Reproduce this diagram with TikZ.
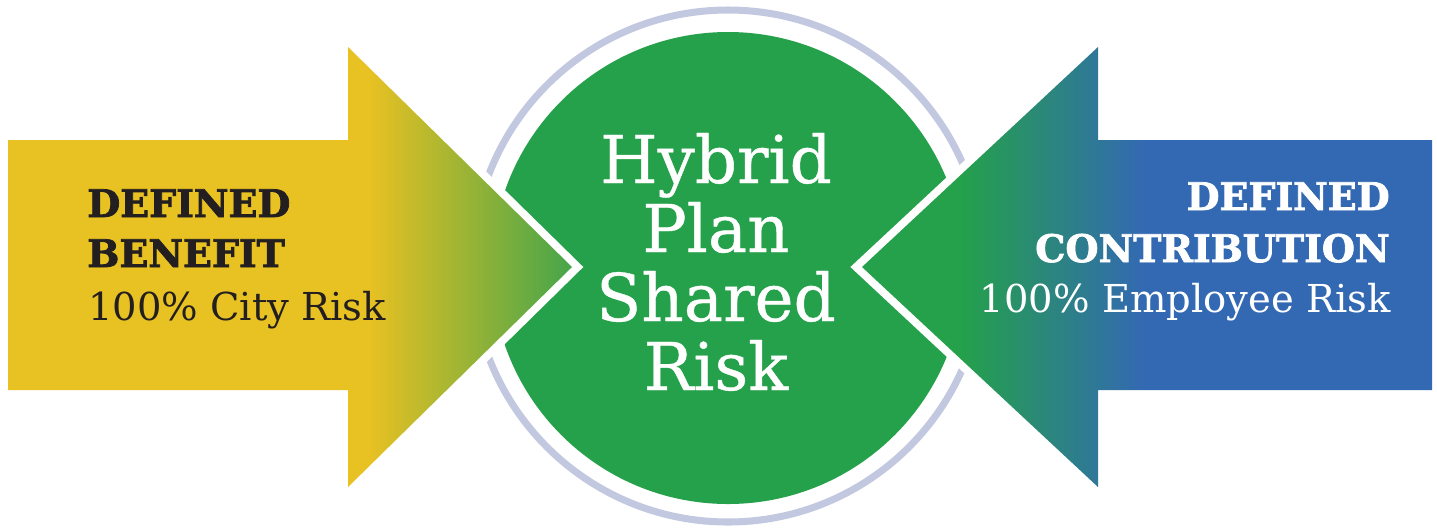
\documentclass[tikz,border=0pt]{standalone}
\usepackage{fontspec}
\setmainfont{DejaVu Serif}[BoldFeatures={FakeBold=2}]
\newfontfamily\hybridFont{DejaVu Serif}[FakeBold=0.6]
\usetikzlibrary{positioning}
\definecolor{cityYellow}{RGB}{232,193,34}
\definecolor{tipGreen}{RGB}{70,165,74}
\definecolor{hybridGreen}{RGB}{36,161,74}
\definecolor{employeeBlue}{RGB}{51,105,179}
\definecolor{ringColor}{RGB}{195,200,225}
\definecolor{darkText}{RGB}{35,31,32}
\pgfdeclarehorizontalshading{benefitShade}{100bp}{color(0bp)=(cityYellow); color(57bp)=(cityYellow); color(75bp)=(tipGreen); color(100bp)=(tipGreen)}
\pgfdeclarehorizontalshading{contributionShade}{100bp}{color(0bp)=(hybridGreen); color(33.6bp)=(hybridGreen); color(49.8bp)=(employeeBlue); color(100bp)=(employeeBlue)}
\tikzstyle{diagram} = [x = 0.02cm, y = -0.02cm]
\tikzstyle{whiteEdge} = [draw = white, line width = 9pt, line join = miter]
\tikzstyle{ringStyle} = [draw = ringColor, line width = 4pt]
\tikzstyle{hybridText} = [text = white, font = \hybridFont\fontsize{37.5}{39}\selectfont, anchor = base, inner sep = 0]
\tikzstyle{boldLine} = [font = \fontsize{21.6}{24}\selectfont\bfseries, inner sep = 0]
\tikzstyle{plainLine} = [font = \fontsize{21.9}{24}\selectfont, inner sep = 0]
\newcommand{\bigArrow}[4]{
  \draw [whiteEdge] (#1,140) -- (#2,140) -- (#2,47) -- (#3,267) -- (#2,487) -- (#2,390) -- (#1,390) -- cycle;
  \shade [shading = #4] (#1,140) -- (#2,140) -- (#2,47) -- (#3,267) -- (#2,487) -- (#2,390) -- (#1,390) -- cycle;
}

\begin{document}
\begin{tikzpicture}[diagram]
  \useasboundingbox (0,0) rectangle (1437,529);

  \draw [ringStyle] (728,266) circle (256);
  \fill [hybridGreen] (728,268) circle (236);

  \bigArrow{8}{348}{572}{benefitShade}
  \bigArrow{1432}{1098}{862}{contributionShade}

  \node [hybridText] (hybrid) at (716,183) {Hybrid};
  \node [hybridText] (plan) at (716,252) {Plan};
  \node [hybridText] (shared) at (716,321) {Shared};
  \node [hybridText] (risk) at (716,390) {Risk};

  \node [boldLine, text = darkText, anchor = base west] (dbTop) at (87,217) {DEFINED};
  \node [boldLine, text = darkText, anchor = base west] (dbBottom) at (87,267) {BENEFIT};
  \node [plainLine, text = darkText, anchor = base west] (dbRisk) at (88,320) {100\% City Risk};

  \node [boldLine, text = white, anchor = base east] (dcTop) at (1390,210) {DEFINED};
  \node [boldLine, text = white, anchor = base east] (dcBottom) at (1390,262) {CONTRIBUTION};
  \node [plainLine, text = white, anchor = base east] (dcRisk) at (1391,312) {100\% Employee Risk};
\end{tikzpicture}
\end{document}
